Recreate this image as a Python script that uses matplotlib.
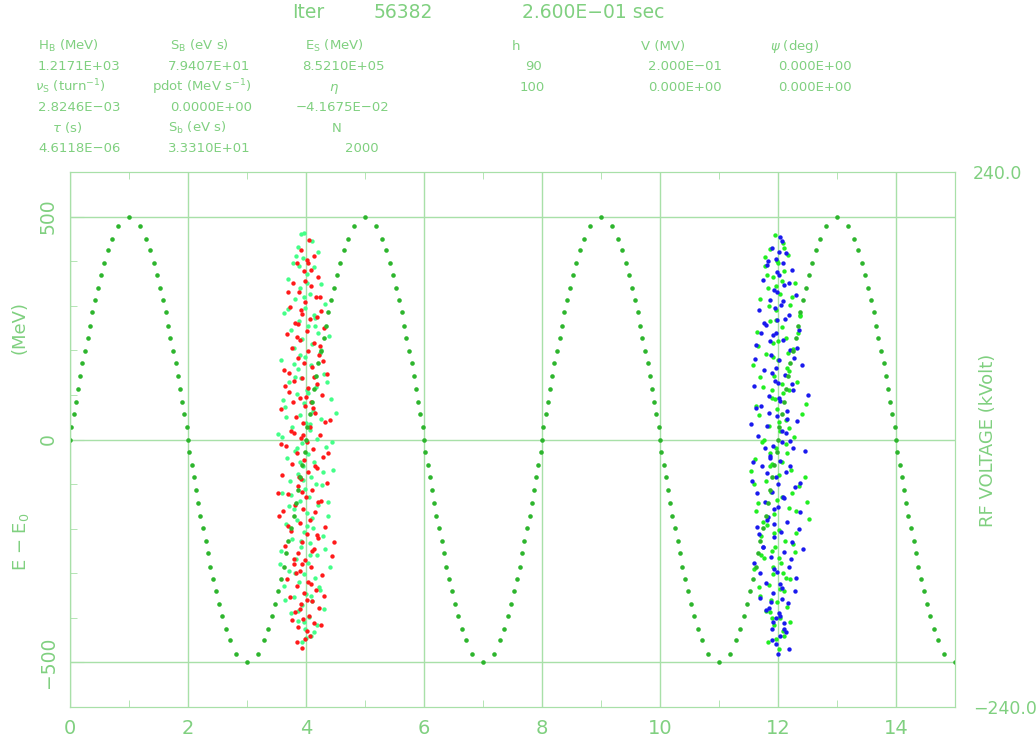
import numpy as np
import matplotlib
matplotlib.use("Agg")
import matplotlib.pyplot as plt

# colours
text_c = "#80d080"
line_c = "#a8e0a8"
curve_c = "#2db52d"

# header values
iter_num = "56382"
time_str = "2.600E\u221201 sec"
row1_labels = [r"H$_\mathrm{B}$ (MeV)", r"S$_\mathrm{B}$ (eV s)", r"E$_\mathrm{S}$ (MeV)"]
row1_values = ["1.2171E+03", "7.9407E+01", "8.5210E+05"]
row2_labels = [r"$\nu_\mathrm{S}$ (turn$^{-1}$)", r"pdot (MeV s$^{-1}$)", r"$\eta$"]
row2_values = ["2.8246E\u221203", "0.0000E+00", "\u22124.1675E\u221202"]
row3_labels = [r"$\tau$ (s)", r"S$_\mathrm{b}$ (eV s)", "N"]
row3_values = ["4.6118E\u221206", "3.3310E+01", "2000"]
rf_labels = ["h", "V (MV)", r"$\psi$ (deg)"]
rf_row1 = ["90", "2.000E\u221201", "0.000E+00"]
rf_row2 = ["100", "0.000E+00", "0.000E+00"]

# RF voltage dots over one half period (phase units, kV)
half_phase = [0.00, 0.02, 0.07, 0.11, 0.14, 0.17, 0.21, 0.26, 0.30, 0.34,
              0.38, 0.43, 0.47, 0.52, 0.58, 0.64, 0.72, 0.81, 1.00, 1.19,
              1.28, 1.36, 1.42, 1.48, 1.53, 1.57, 1.62, 1.66, 1.70, 1.74,
              1.79, 1.83, 1.86, 1.89, 1.93, 1.98]
half_kv = [0, 11, 23, 34, 45, 57, 69, 79, 91, 102,
           114, 125, 136, 148, 158, 170, 180, 192, 200, 192,
           180, 170, 158, 148, 136, 125, 114, 102, 91, 79,
           69, 57, 45, 34, 23, 11]

# bunch 1 particles
red_phase = [4.05, 3.91, 4.13, 3.84, 4.02, 3.96, 4.21, 3.78, 4.09, 3.88,
             4.17, 3.99, 3.73, 4.26, 3.93, 4.07, 3.81, 4.31, 4.01, 3.67,
             3.90, 4.14, 3.76, 4.04, 4.22, 3.86, 3.97, 4.11, 3.62, 4.35,
             3.94, 3.80, 4.18, 4.03, 3.71, 4.27, 3.89, 4.08, 3.98, 3.58,
             4.15, 3.83, 4.40, 3.95, 4.06, 3.74, 4.23, 3.92, 4.01, 3.66,
             4.12, 3.85, 4.29, 3.96, 3.77, 4.19, 4.03, 3.60, 3.91, 4.36,
             3.87, 4.10, 3.70, 4.00, 4.25, 3.82, 3.95, 4.16, 3.55, 4.07,
             3.89, 4.33, 3.75, 4.02, 4.20, 3.93, 3.64, 4.13, 3.86, 4.44,
             3.99, 3.79, 4.09, 3.90, 4.27, 3.68, 4.04, 3.84, 4.17, 3.97,
             3.73, 4.11, 3.92, 4.22, 3.81, 4.05, 3.95, 4.14, 3.87, 4.02,
             3.98, 3.94, 4.08, 3.70, 4.19, 3.85, 4.28, 3.64, 4.12, 3.79,
             4.38, 3.88, 4.21, 3.69, 4.10, 3.83, 4.30, 3.76, 4.06, 3.99,
             3.91, 4.24, 3.72, 4.00, 4.32, 3.57, 4.15, 3.94, 3.61, 4.18,
             3.80, 4.09, 3.89, 4.26, 3.84, 4.04, 3.86, 4.14, 3.95, 3.52,
             4.47, 4.01, 3.78, 4.23, 3.93]
red_e = [448, 425, 411, 396, 402, 377, 365, 352, 344, 331,
         320, 309, 298, 289, 281, 270, 262, 251, 243, 236,
         224, 217, 205, 198, 190, 182, 171, 163, 156, 148,
         139, 131, 124, 115, 107, 99, 92, 84, 75, 68,
         60, 51, 44, 36, 27, 19, 11, 3, -6, -14,
         -22, -31, -39, -47, -55, -64, -72, -80, -89, -97,
         -105, -113, -122, -130, -138, -147, -155, -163, -171, -180,
         -188, -196, -205, -213, -221, -229, -238, -246, -254, -262,
         -271, -279, -287, -296, -304, -312, -320, -329, -337, -345,
         -354, -362, -370, -378, -387, -395, -403, -412, -421, -430,
         -448, -468, 380, 330, 275, 230, 175, 120, 70, 15,
         -30, -85, -140, -195, -250, -300, -350, -405, -440, 355,
         290, 210, 150, 95, 40, -10, -60, -118, -160, -215,
         -268, -325, -380, -415, -455, 395, 260, 140, 10, -120,
         -230, -360, 85, 320, -280]

mint_phase = [3.97, 4.10, 3.86, 4.20, 3.95, 3.78, 4.13, 4.02, 3.69, 4.26,
              3.90, 4.07, 3.82, 4.33, 3.99, 3.62, 4.16, 3.88, 4.04, 3.74,
              4.39, 3.94, 4.11, 3.80, 4.23, 3.98, 3.58, 4.08, 3.87, 4.30,
              3.92, 3.71, 4.17, 4.01, 3.84, 4.42, 3.96, 3.65, 4.12, 3.89,
              4.25, 4.00, 3.77, 4.06, 3.53, 4.19, 3.93, 4.34, 3.81, 4.03,
              3.68, 4.14, 3.95, 4.46, 3.86, 4.09, 3.73, 4.27, 3.99, 3.60,
              4.05, 3.90, 4.21, 3.79, 4.02, 4.37, 3.85, 3.66, 4.12, 3.97,
              4.29, 3.76, 4.07, 3.91, 3.57, 4.18, 3.83, 4.03, 4.41, 3.72,
              3.96, 4.15, 3.88, 3.63, 4.24, 4.00, 3.80, 4.10, 3.93, 4.31,
              3.75, 4.05, 3.87, 4.19, 3.98, 4.08, 3.94, 3.83, 4.02, 3.70,
              4.21, 3.89, 4.35, 3.61, 4.07, 3.84, 4.28, 3.74, 4.11, 3.92,
              3.56, 4.22, 3.86, 4.13, 3.96, 4.15, 3.79, 4.04, 3.66, 4.44,
              3.90, 4.17, 3.71, 4.01, 4.33, 3.81, 4.09, 3.97, 3.59, 4.50,
              3.88, 4.26, 3.95, 4.06, 3.64, 4.14, 3.82, 4.38, 3.92, 4.00]
mint_e = [463, 445, 432, 420, 408, 395, 386, 372, 360, 348,
          340, 327, 315, 305, 296, 284, 273, 266, 254, 245,
          233, 226, 214, 206, 195, 186, 178, 166, 158, 146,
          137, 129, 118, 110, 101, 90, 82, 73, 64, 55,
          47, 38, 29, 21, 12, 2, -7, -16, -25, -33,
          -42, -51, -59, -68, -77, -85, -94, -103, -111, -120,
          -129, -137, -146, -155, -164, -172, -181, -190, -198, -207,
          -216, -224, -233, -242, -250, -259, -268, -276, -285, -294,
          -302, -311, -320, -328, -337, -346, -354, -363, -372, -380,
          -389, -398, -406, -415, -424, -440, -455, 412, 350, 292,
          238, 190, 130, 88, 35, -20, -72, -125, -175, -228,
          -280, -330, -385, -432, 320, 255, 170, 105, 50, -5,
          -50, -100, -150, -195, -245, -300, -350, -410, 5, 60,
          390, 200, -90, -260, -360, 280, 140, -140, 460, -445]

# bunch 2 particles
blue_phase = [12.06, 11.90, 12.14, 11.97, 11.82, 12.23, 12.02, 11.74, 12.10, 11.93,
              12.30, 11.86, 12.05, 11.68, 12.18, 11.99, 11.79, 12.35, 11.92, 12.08,
              11.63, 12.21, 11.88, 12.01, 12.40, 11.76, 12.12, 11.95, 11.59, 12.26,
              11.84, 12.04, 11.71, 12.16, 11.98, 12.33, 11.81, 12.07, 11.66, 12.20,
              11.91, 12.45, 11.87, 12.03, 11.73, 12.13, 11.96, 11.56, 12.28, 11.89,
              12.09, 11.78, 12.00, 12.37, 11.83, 12.15, 11.65, 12.05, 11.94, 12.24,
              11.75, 12.11, 11.88, 11.60, 12.19, 11.99, 12.31, 11.80, 12.06, 11.92,
              11.69, 12.17, 11.85, 12.02, 11.97, 12.10, 11.90, 12.04, 11.96, 12.00,
              11.83, 12.19, 11.95, 11.72, 12.27, 12.00, 11.62, 12.14, 11.86, 12.38,
              11.93, 11.68, 12.22, 12.03, 11.79, 12.13, 11.98, 12.08, 11.77, 12.32,
              11.89, 12.02, 11.55, 12.25, 11.82, 12.10, 11.94, 12.42, 11.70, 12.06,
              11.91, 12.18, 12.01, 11.87, 12.16, 11.64, 12.29, 11.97, 12.07, 11.81,
              12.50, 11.90, 12.12, 11.74, 12.04, 11.99, 12.21, 11.85, 11.61, 12.35,
              11.93, 12.09, 11.78, 12.00, 11.96, 12.24, 11.88, 12.11, 11.58, 12.03]
blue_e = [445, 430, 418, 404, 392, 381, 369, 358, 347, 336,
          325, 313, 302, 290, 279, 268, 257, 246, 234, 223,
          212, 200, 189, 178, 166, 155, 144, 132, 121, 110,
          98, 87, 76, 64, 53, 42, 30, 19, 8, -4,
          -15, -26, -38, -49, -60, -72, -83, -94, -106, -117,
          -128, -140, -151, -162, -174, -185, -196, -208, -219, -230,
          -242, -253, -264, -276, -287, -298, -310, -321, -332, -344,
          -355, -366, -378, -389, -400, -412, -425, -440, -458, -481,
          400, 352, 296, 240, 183, 127, 70, 14, -42, -98,
          -155, -212, -268, -325, -382, -432, 375, 310, 262, 205,
          150, 92, 35, -20, -75, -132, -190, -246, -300, -358,
          -410, -470, 420, 220, 45, -120, -340, 160, -5, -180,
          100, -450, 270, -240, -395, 330, -60, 60, 180, -200,
          -290, 395, -20, -100, 240, 125, -365, -425, -50, 455]

green_phase = [11.95, 12.08, 11.87, 12.17, 11.99, 11.78, 12.11, 11.92, 12.28, 11.83,
               12.03, 11.70, 12.20, 11.96, 12.38, 11.86, 12.06, 11.64, 12.14, 11.91,
               12.25, 11.80, 12.00, 11.57, 12.19, 11.94, 12.33, 11.75, 12.09, 11.89,
               12.47, 11.98, 11.68, 12.13, 11.84, 12.04, 12.27, 11.73, 11.97, 12.15,
               11.61, 11.90, 12.22, 12.01, 11.79, 12.36, 11.88, 12.07, 11.66, 12.18,
               11.93, 12.52, 11.82, 12.02, 11.71, 12.12, 11.95, 12.29, 11.77, 12.05,
               11.59, 11.92, 12.21, 11.85, 12.10, 11.69, 11.99, 12.16, 11.87, 12.03,
               11.93, 12.08, 11.97, 12.02, 12.10, 11.81, 12.24, 11.97, 11.66, 12.15,
               11.90, 12.41, 11.76, 12.06, 11.60, 12.30, 11.94, 11.72, 12.13, 11.88,
               12.20, 12.00, 11.84, 12.34, 11.92, 12.07, 11.62, 12.18, 11.86, 12.45,
               11.99, 11.74, 12.26, 11.91, 12.04, 11.80, 12.11, 11.96, 12.17, 11.70,
               12.02, 11.55, 12.23, 11.89, 12.09, 11.83, 12.38, 11.95, 12.14, 11.67,
               12.00, 11.78, 12.31, 11.90, 12.06, 11.63, 12.19, 11.87, 12.49, 12.01]
green_e = [458, 440, 427, 414, 401, 389, 377, 364, 352, 340,
           327, 315, 302, 290, 278, 265, 253, 241, 228, 216,
           204, 191, 179, 167, 154, 142, 130, 117, 105, 93,
           80, 68, 56, 43, 31, 19, 6, -6, -18, -31,
           -43, -55, -68, -80, -92, -105, -117, -129, -142, -154,
           -166, -179, -191, -203, -216, -228, -240, -253, -265, -277,
           -290, -302, -314, -327, -339, -351, -364, -376, -388, -401,
           -415, -430, -448, -470, 430, 370, 320, 268, 210, 160,
           110, 58, 0, -50, -100, -160, -210, -260, -310, -360,
           -410, 395, 300, 240, 185, 125, 75, 25, -30, -85,
           -135, -185, -235, -285, -335, -385, -440, 345, 195, 140,
           40, -70, -120, -250, -300, -455, 280, 90, -10, -330,
           220, 410, -210, -400, 355, -160, 110, -60, -140, -265]

W, H = 1036, 738
fig = plt.figure(figsize=(W / 100, H / 100), dpi=100)
fig.patch.set_facecolor("white")


def ftext(x, y, s, size=9.5, **kw):
    # x, y in pixels from top left, y = baseline
    fig.text(x / W, 1 - y / H, s, fontsize=size, color=text_c,
             ha=kw.pop("ha", "left"), va=kw.pop("va", "baseline"), **kw)


# title line
ftext(292, 18, "Iter", size=13.5)
ftext(374, 18, iter_num, size=13.5)
ftext(522, 18, time_str, size=13.5)

# parameter table
for s, x in zip(row1_labels, [38, 170, 305]):
    ftext(x, 50, s)
for s, x in zip(row1_values, [38, 168, 302]):
    ftext(x, 70, s)
for s, x in zip(row2_labels, [35, 152, 329]):
    ftext(x, 91, s)
for s, x in zip(row2_values, [38, 170, 296]):
    ftext(x, 111, s)
for s, x in zip(row3_labels, [52, 168, 332]):
    ftext(x, 132, s)
for s, x in zip(row3_values, [38, 168, 345]):
    ftext(x, 152, s)
for s, x in zip(rf_labels, [512, 641, 770]):
    ftext(x, 50, s)
for s, x in zip(rf_row1, [525, 648, 778]):
    ftext(x, 70, s)
for s, x in zip(rf_row2, [520, 648, 778]):
    ftext(x, 91, s)

# main axes
ax = fig.add_axes([70 / W, 1 - 707 / H, 885 / W, 535 / H])
ax.set_xlim(0, 15)
ax.set_ylim(-600, 600)

ax.scatter(mint_phase, mint_e, s=10, color="#44ff88", linewidths=0, zorder=2)
ax.scatter(red_phase, red_e, s=10, color="#ff1a1a", linewidths=0, zorder=2)
ax.scatter(green_phase, green_e, s=10, color="#22ee22", linewidths=0, zorder=2)
ax.scatter(blue_phase, blue_e, s=10, color="#1a1aee", linewidths=0, zorder=2)

ax.set_xticks(range(0, 15, 2))
ax.set_xticks(range(1, 15, 2), minor=True)
ax.set_yticks([-500, 0, 500])
ax.set_yticks([-400, -300, -200, -100, 100, 200, 300, 400], minor=True)
ax.set_yticklabels(["\u2212500", "0", "500"])
ax.grid(True, which="major", color=line_c, linewidth=1)

ax.tick_params(axis="x", which="major", length=0, pad=9, labelsize=14, labelcolor=text_c)
ax.tick_params(axis="x", which="minor", direction="in", length=5, top=True, bottom=True, color=line_c)
ax.tick_params(axis="y", which="major", direction="in", length=10, left=True, right=True,
               pad=9, labelsize=13.5, labelcolor=text_c, color=line_c, labelrotation=90)
ax.tick_params(axis="y", which="minor", direction="in", length=5, left=True, right=True, color=line_c)
for lab in ax.get_yticklabels():
    lab.set_va("center")
for sp in ax.spines.values():
    sp.set_color(line_c)

# RF voltage curve on the right-hand scale
curve_x, curve_v = [], []
for k in range(8):
    sign = 1 if k % 2 == 0 else -1
    for p, v in zip(half_phase, half_kv):
        if p + 2 * k <= 15.0:
            curve_x.append(p + 2 * k)
            curve_v.append(sign * v)

ax2 = ax.twinx()
ax2.set_ylim(-240, 240)
ax2.plot(curve_x, curve_v, "o", ms=3.3, mec="none", color=curve_c)
ax2.set_yticks([-240, 240])
ax2.set_yticklabels(["\u2212240.0", "240.0"])
ax2.tick_params(axis="y", length=0, pad=13, labelsize=12.5, labelcolor=text_c)
for sp in ax2.spines.values():
    sp.set_color(line_c)

# axis titles
fig.text(19 / W, 1 - 328 / H, "(MeV)", rotation=90, ha="center", va="center",
         fontsize=13, color=text_c)
fig.text(21 / W, 1 - 542 / H, r"E $-$ E$_0$", rotation=90, ha="center", va="center",
         fontsize=13, color=text_c)
fig.text(988 / W, 1 - 440 / H, "RF VOLTAGE (kVolt)", rotation=90, ha="center", va="center",
         fontsize=13, color=text_c)

plt.savefig("out.png", dpi=100)
plt.close()
